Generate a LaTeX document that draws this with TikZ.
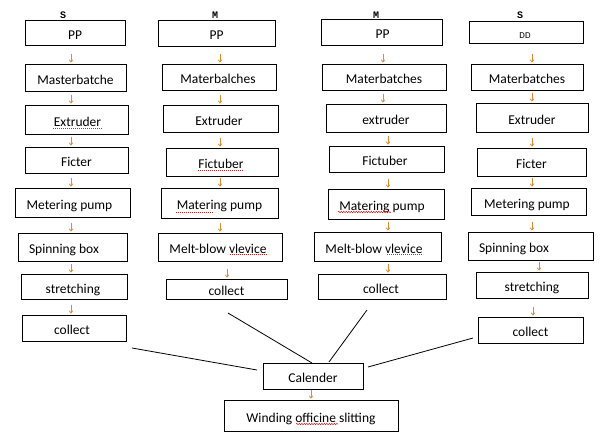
\documentclass[tikz,border=0pt]{standalone}
\usepackage{fontspec}
\setmainfont{Carlito}
\newfontfamily\monofnt{Liberation Mono}
\usetikzlibrary{arrows.meta,decorations.pathmorphing}
\definecolor{arrorange}{RGB}{222,140,50}
\definecolor{spellred}{RGB}{215,35,35}
\newcommand\bx[7]{\node[box,minimum width={#4-#2},minimum height={#5-#3}] (#1) at ({(#2+#4)/2},{(#3+#5)/2}) {\hspace*{#6pt}#7\hspace*{-#6pt}};}
\newcommand\ar[2]{\draw[arr] ([xshift=#2pt,yshift=10pt]#1.north) -- ([xshift=#2pt,yshift=1pt]#1.north);}
\tikzset{
  box/.style={draw=black,line width=0.8pt,inner sep=0pt,fill=white,
    font=\fontsize{13.5}{16}\selectfont,text height=14pt,text depth=1pt},
  arr/.style={draw=arrorange,line width=0.8pt,-{Straight Barb[length=2.2pt,width=3.6pt]}},
  link/.style={draw=black,line width=0.8pt},
  spelldot/.style={draw=spellred,line width=0.7pt,dash pattern=on 0.7pt off 1.3pt},
  spellwave/.style={draw=spellred,line width=0.5pt,decorate,decoration={snake,amplitude=0.7pt,segment length=2.5pt}},
  lab/.style={font=\monofnt\bfseries\fontsize{10}{10}\selectfont,inner sep=0pt}
}
\begin{document}
\begin{tikzpicture}[x=1pt,y=-1pt]
\useasboundingbox[fill=white] (0,0) rectangle (610,434);
% column labels
\node[lab] (s1) at (63,15) {S};
\node[lab] (m1) at (215,15) {M};
\node[lab] (m2) at (376,15) {M};
\node[lab] (s2) at (520,15) {S};
% column 1
\bx{a1}{25}{20}{125}{45}{0}{PP}
\bx{a2}{25}{64}{126}{91}{0}{Masterbatche}
\bx{a3}{25}{105}{128}{134}{1}{Extruder}
\bx{a4}{25}{147}{128}{173}{0}{Ficter}
\bx{a5}{15}{188}{130}{217}{-3}{Metering pump}
\bx{a6}{18}{233}{127}{261}{-8.5}{Spinning box}
\bx{a7}{21}{274}{127}{299}{-1}{stretching}
\bx{a8}{22}{315}{126}{341}{-2}{collect}
% column 2
\bx{b1}{158}{20}{275}{46}{0}{PP}
\bx{b2}{162}{64}{276}{90}{-1}{Materbalches}
\bx{b3}{163}{105}{278}{132}{-1.5}{Extruder}
\bx{b4}{166}{148}{278}{176}{-1}{Fictuber}
\bx{b5}{161}{188}{278}{218}{0}{Matering pump}
\bx{b6}{158}{233}{282}{261}{-2}{Melt-blow vlevice}
\bx{b7}{166}{279}{287}{299}{0}{collect}
% column 3
\bx{c1}{321}{19}{442}{45}{1}{PP}
\bx{c2}{322}{64}{446}{90}{0}{Materbatches}
\bx{c3}{326}{104}{446}{132}{0}{extruder}
\bx{c4}{329}{146}{444}{172}{-1.5}{Fictuber}
\bx{c5}{328}{189}{444}{219}{-4}{Matering pump}
\bx{c6}{314}{232}{441}{261}{-3.5}{Melt-blow vlevice}
\bx{c7}{318}{274}{446}{299}{-1}{collect}
% column 4
\bx{d1}{469}{21}{583}{43}{-1}{{\fontsize{9}{10}\selectfont DD}}
\bx{d2}{471}{64}{583}{90}{0}{Materbatches}
\bx{d3}{476}{103}{588}{132}{0}{Extruder}
\bx{d4}{477}{148}{586}{176}{0}{Ficter}
\bx{d5}{471}{188}{586}{215}{-1.5}{Metering pump}
\bx{d6}{468}{232}{593}{260}{-16.5}{Spinning box}
\bx{d7}{476}{272}{588}{298}{0}{stretching}
\bx{d8}{478}{317}{583}{343}{0}{collect}
% bottom
\bx{cal}{263}{363}{363}{389}{0}{Calender}
\bx{wind}{224}{400}{398}{431}{0}{Winding officine slitting}
% arrows column 1
\ar{a2}{-4.5}\ar{a3}{-5.5}\ar{a4}{-5.5}\ar{a5}{-1.5}\ar{a6}{-1.5}\ar{a7}{-3}\ar{a8}{-3}
% arrows column 2
\ar{b2}{1}\ar{b3}{-0.5}\ar{b4}{-2}\ar{b5}{0.5}\ar{b6}{0}\ar{b7}{0.5}
% arrows column 3
\ar{c2}{-1}\ar{c3}{-3}\ar{c4}{1.5}\ar{c5}{2}\ar{c6}{10.5}\ar{c7}{6}
% arrows column 4
\ar{d2}{5}\ar{d3}{0}\ar{d4}{0.5}\ar{d5}{3.5}\ar{d6}{1.5}\ar{d7}{7}\ar{d8}{2.5}
% calender to winding
\draw[arr] ([yshift=10pt]wind.north) -- ([yshift=1pt]wind.north);
% converging lines
\coordinate (l1s) at (132,348); \coordinate (l1e) at (257,370);
\coordinate (l2s) at (228,313); \coordinate (l2e) at (312,363);
\coordinate (l3s) at (367,310); \coordinate (l3e) at (329,362);
\coordinate (l4s) at (473,338); \coordinate (l4e) at (368,367);
\draw[link] (l1s) -- (l1e);
\draw[link] (l2s) -- (l2e);
\draw[link] (l3s) -- (l3e);
\draw[link] (l4s) -- (l4e);
% spell-check marks
\draw[spelldot] (53,128) -- (102,128);
\draw[spelldot] (198,170) -- (243,170);
\draw[spelldot] (176,212) -- (213,212);
\draw[spelldot] (230,254) -- (267,254);
\draw[spelldot] (387,254) -- (423,254);
\draw[spellwave] (338,212) -- (391,212);
\draw[spellwave] (296,424) -- (338,424);
\end{tikzpicture}
\end{document}
